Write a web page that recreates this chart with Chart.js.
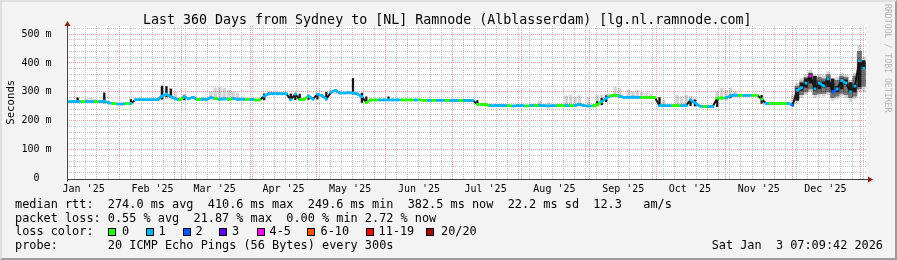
<!DOCTYPE html>
<html><head><meta charset="utf-8">
<script src="https://cdn.jsdelivr.net/npm/chart.js@4.4.0/dist/chart.umd.min.js"></script>
<style>
html,body{margin:0;padding:0;background:#f3f3f3;}
#wrap{position:relative;width:897px;height:260px;background:#f3f3f3;overflow:hidden;}
#c{position:absolute;left:0;top:0;}
#frame{position:absolute;left:0;top:0;width:897px;height:260px;box-sizing:border-box;border-top:2px solid #dedede;border-left:2px solid #dedede;border-right:2px solid #9c9c9c;border-bottom:2px solid #9c9c9c;pointer-events:none;}
.t{position:absolute;font-family:"DejaVu Sans Mono",monospace;color:#000;white-space:pre;}
.box{position:absolute;width:8px;height:8px;box-sizing:border-box;border:1px solid #000;}
</style></head>
<body><div id="wrap"><canvas id="c" width="897" height="260"></canvas><div id="frame"></div></div>
<script>
// ---------------- data ----------------
const monthLabels = ["Jan '25","Feb '25","Mar '25","Apr '25","May '25","Jun '25","Jul '25","Aug '25","Sep '25","Oct '25","Nov '25","Dec '25"];
const yTickValues = [0,100,200,300,400,500];
const sampleStepDays = 2; // one median sample every 2 days, from the graph start

// median rtt (ms), one value per 2-day step
const median = [
 266,266,266,266,266,266,266,266,268,262,
 260,258,258,259,260,273,273,273,273,273,
 273,285,292,283,276,272,283,276,281,273,
 275,274,280,277,274,276,274,277,274,275,
 274,274,272,272,285,293,293,293,293,293,
 273,292,273,274,286,275,292,287,275,298,
 305,296,296,297,296,293,283,263,272,272,
 272,272,272,272,272,272,272,272,272,272,
 271,271,271,271,271,271,270,270,270,270,
 270,270,257,257,255,252,252,253,252,252,
 251,252,252,251,252,253,252,252,251,252,
 252,253,252,252,253,257,252,251,251,256,
 266,278,286,289,285,281,281,282,281,281,
 281,281,280,252,252,252,252,252,252,252,
 272,262,251,249,249,249,278,279,279,286,
 289,288,288,288,288,288,275,260,260,260,
 260,260,260,254,305,315,330,355,310,330,
 320,345,300,310,340,330,300,320,408,382
];
// lost pings (of 20) per step
const loss = [
 1,1,1,0,1,1,0,1,1,1,
 0,1,1,0,1,1,1,1,1,1,
 1,1,1,1,1,0,1,1,1,0,
 1,1,1,0,1,1,0,1,1,1,
 0,1,0,0,1,1,1,1,1,1,
 1,1,0,0,1,1,1,1,1,1,
 1,1,1,1,1,1,1,0,0,0,
 1,1,1,1,1,0,0,0,1,0,
 0,1,0,1,1,0,1,1,0,1,
 1,1,0,0,0,1,1,1,1,0,
 1,1,1,0,1,0,1,1,1,1,
 0,0,1,0,1,1,1,1,0,0,
 1,1,0,0,1,1,1,1,1,0,
 0,0,0,1,1,1,0,0,1,1,
 1,1,1,0,1,1,0,0,1,1,
 1,0,1,1,0,0,0,1,0,0,
 0,0,1,2,1,1,1,4,1,1,
 1,1,2,1,1,1,1,1,1,1
];
// smoke: [step index, low ms, high ms]
const smokeOuter = [
 [2,264,279],[4,264,276],[5,264,278],[6,264,275],[8,262,285],
 [21,272,315],[22,275,318],[23,274,312],[24,272,300],[26,272,292],
 [32,272,300],[33,272,314],[34,272,316],[35,272,312],[36,272,305],[37,272,300],[38,272,296],
 [45,290,298],[46,290,299],[47,290,298],
 [59,292,305],[60,295,310],[61,292,303],
 [106,250,268],[108,250,262],[112,250,285],[113,250,289],[114,250,282],[115,252,287],[117,250,280],
 [119,252,289],[120,258,289],[121,270,292],
 [123,283,316],[124,280,312],[126,278,306],[127,278,300],[128,278,306],[129,278,298],
 [130,278,295],[131,278,292],[133,250,280],[134,250,270],[137,250,289],[138,250,285],[139,250,289],
 [140,260,285],[141,250,275],
 [146,270,300],[147,272,313],[148,272,305],[149,280,313],[150,284,302],
 [163,250,290],[164,262,330],[165,280,345],[166,290,360],[167,300,375],[168,280,350],[169,285,360],
 [170,285,355],[171,290,370],[172,270,340],[173,275,350],[174,285,365],[175,280,360],[176,265,340],
 [177,275,365],[178,300,460],[179,300,420]
];
const smokeMid = [
 [164,275,320],[165,290,335],[166,300,350],[167,310,365],[168,290,340],[169,295,350],[170,295,345],
 [171,300,360],[172,280,330],[173,285,340],[174,295,355],[175,290,350],[176,280,330],[177,285,355],
 [178,310,440],[179,320,400]
];
// thin dark spikes of the calm months
const smokeCore = [
 [2,265,279],[8,262,297],[14,260,273],[21,275,320],[22,283,318],[23,280,310],[26,272,285],
 [44,272,293],[50,273,293],[51,273,292],[52,273,292],[54,274,286],[56,275,292],[58,275,298],
 [64,293,347],[66,263,296],[67,263,283],[72,272,283],
 [92,257,270],[94,252,257],[115,252,257],[119,251,266],[120,256,278],[121,266,286],
 [133,252,280],[140,252,272],[141,251,272],[146,249,278],[149,279,289],[156,260,288],[163,254,262]
];
// dense dark smoke of December
const smokeDense = [
 [164,270,312],[165,305,330],[166,315,345],[167,330,362],[168,305,355],[169,310,335],[170,315,335],[171,318,348],
 [172,300,345],[173,300,318],[174,310,345],[175,325,342],[176,298,332],[177,300,325],[178,318,412],[179,380,408]
];
const lossColors = ['#26ff00','#00b8ff','#0059ff','#5e00ff','#ff00ff','#ff5500','#ff0000','#a10000'];
const lossLabels = ['0','1','2','3','4-5','6-10','11-19','20/20'];
const legendLines = [
 "median rtt:  274.0 ms avg  410.6 ms max  249.6 ms min  382.5 ms now  22.2 ms sd  12.3   am/s",
 "packet loss: 0.55 % avg  21.87 % max  0.00 % min 2.72 % now",
 "loss color:",
 "probe:       20 ICMP Echo Pings (56 Bytes) every 300s"
];
const titleText = "Last 360 Days from Sydney to [NL] Ramnode (Alblasserdam) [lg.nl.ramnode.com]";
const stampText = "Sat Jan  3 07:09:42 2026";

// ---------------- time helpers ----------------
const START = Date.UTC(2025,0,8,7,9,42);
const DAYMS = 86400000;
const SPAN = 360;
const dayOf = (y,m,d) => (Date.UTC(y,m,d) - START) / DAYMS;
const labelDays = monthLabels.map((_,m) => dayOf(2025,m,16));
const majorDays = [];
for (let m = 1; m <= 12; m++) majorDays.push(dayOf(2025,m,1));
const minorDays = [];
for (let d = dayOf(2025,0,2); d <= SPAN; d += 5) if (d >= 0) minorDays.push(d);
const yMinorValues = [];
for (let v = 20; v <= 520; v += 20) if (v % 100) yMinorValues.push(v);
const stepX = i => sampleStepDays * i + sampleStepDays / 2;
const JUMP_MS = 12; // steeper steps are left to the dark smoke, as in SmokePing

function lossColor(n){
  if (n <= 0) return lossColors[0];
  if (n === 1) return lossColors[1];
  if (n === 2) return lossColors[2];
  if (n === 3) return lossColors[3];
  if (n <= 5) return lossColors[4];
  if (n <= 10) return lossColors[5];
  if (n <= 19) return lossColors[6];
  return lossColors[7];
}

// ---------------- text (DOM) ----------------
const wrap = document.getElementById('wrap');
function place(text, x, baseline, fs, extra){
  const el = document.createElement('div');
  el.className = 't';
  el.textContent = text;
  el.style.fontSize = fs + 'px';
  el.style.lineHeight = (fs * 1.164) + 'px';
  el.style.top = (baseline - 0.928 * fs) + 'px';
  if (x !== null) el.style.left = x + 'px';
  if (extra) Object.assign(el.style, extra);
  wrap.appendChild(el);
  return el;
}
place(titleText, 143, 24, 13.3);
const legFs = 11.86, legBase = [209, 222.8, 236.5, 250.2];
legendLines.forEach((s,i) => place(s, 15, legBase[i], legFs));
place(stampText, null, 250.2, legFs, {right: '14px'});
const boxX = [108, 146, 183, 219, 257, 307, 366, 426];
const lblX = [122, 158.5, 195.5, 232, 269.5, 320.5, 378.5, 441];
lossLabels.forEach((l,i) => {
  const b = document.createElement('div');
  b.className = 'box';
  b.style.left = boxX[i] + 'px'; b.style.top = '228px';
  b.style.background = lossColors[i];
  wrap.appendChild(b);
  place(l, lblX[i], 236.5, legFs);
});
const wm = document.createElement('div');
wm.className = 't';
wm.textContent = 'RRDTOOL / TOBI OETIKER';
Object.assign(wm.style, {fontSize:'8.2px', lineHeight:'9.5px', writingMode:'vertical-rl', left:'882.8px', top:'4px', color:'#b4b4b4'});
wrap.appendChild(wm);

// ---------------- chart ----------------
const mono = "'DejaVu Sans Mono', monospace";
const plotBg = {
  id: 'plotBg',
  beforeDraw(chart){
    const {ctx, chartArea:a} = chart;
    ctx.save(); ctx.fillStyle = '#ffffff';
    ctx.fillRect(a.left, a.top, a.right - a.left, a.bottom - a.top);
    ctx.restore();
  }
};
const axesArrows = {
  id: 'axesArrows',
  afterDraw(chart){
    const {ctx, chartArea:a} = chart;
    const L = Math.round(a.left) + 0.5, B = Math.round(a.bottom) + 0.5;
    ctx.save();
    ctx.strokeStyle = '#404040'; ctx.lineWidth = 1;
    ctx.beginPath();
    ctx.moveTo(L, B); ctx.lineTo(a.right + 2, B);
    ctx.moveTo(L, B + 2); ctx.lineTo(L, a.top - 1);
    ctx.stroke();
    ctx.fillStyle = '#8b1c1c';
    ctx.beginPath();
    ctx.moveTo(L - 3, a.top); ctx.lineTo(L + 3, a.top); ctx.lineTo(L, a.top - 5); ctx.closePath(); ctx.fill();
    ctx.beginPath();
    ctx.moveTo(a.right + 2, B - 3); ctx.lineTo(a.right + 2, B + 3); ctx.lineTo(a.right + 7, B); ctx.closePath(); ctx.fill();
    ctx.restore();
  }
};
const hiddenAxis = (extra) => Object.assign({
  type: 'linear', display: true, offset: false,
  ticks: {display: false},
  afterFit: s => { if (s.isHorizontal()) s.height = 0; else s.width = 0; }
}, extra);

const barSet = (list, color, thick, order) => ({
  type: 'bar',
  data: list.map(([i,lo,hi]) => ({x: stepX(i), y: [lo, hi]})),
  backgroundColor: color, borderWidth: 0, barThickness: thick,
  grouped: false, order, xAxisID: 'x', yAxisID: 'y'
});

const GRID_MINOR = '#c4c4c4';
const GRID_MAJOR = '#f4a0a0';
const medianPoints = median.map((v,i) => ({x: stepX(i), y: v}));

new Chart(document.getElementById('c'), {
  type: 'line',
  data: {
    datasets: [
      {
        type: 'line',
        data: medianPoints,
        borderColor: lossColors[1], borderWidth: 2.5, tension: 0, fill: false,
        pointRadius: 1.9, pointStyle: 'rect', pointBorderWidth: 0,
        pointBackgroundColor: c => lossColor(loss[c.dataIndex]),
        segment: {borderColor: c => Math.abs(c.p1.parsed.y - c.p0.parsed.y) > JUMP_MS ? 'rgba(0,0,0,0)' : lossColor(loss[c.p0DataIndex])},
        order: 0, xAxisID: 'x', yAxisID: 'y'
      },
      {
        type: 'line',
        data: medianPoints,
        borderColor: '#141414', borderWidth: 2, tension: 0, fill: false, pointRadius: 0,
        order: 1, xAxisID: 'x', yAxisID: 'y'
      },
      barSet(smokeCore, '#161616', 1.6, 2),
      barSet(smokeDense, '#1a1a1a', 3, 2),
      barSet(smokeMid, 'rgba(0,0,0,0.45)', 4.5, 3),
      barSet(smokeOuter, 'rgba(0,0,0,0.17)', 3, 4)
    ]
  },
  options: {
    responsive: false, animation: false, devicePixelRatio: 1,
    layout: {padding: {left: 0.5, top: 26, right: 31, bottom: 61.5}},
    plugins: {legend: {display: false}, tooltip: {enabled: false}, title: {display: false}},
    scales: {
      xMinor: hiddenAxis({position: 'bottom', min: 0, max: SPAN,
        afterBuildTicks: s => { s.ticks = minorDays.map(v => ({value: v})); },
        grid: {color: GRID_MINOR, lineWidth: 1, drawTicks: false, offset: false, drawOnChartArea: true},
        border: {display: false, dash: [1,1]}}),
      xMajor: hiddenAxis({position: 'bottom', min: 0, max: SPAN,
        afterBuildTicks: s => { s.ticks = majorDays.map(v => ({value: v})); },
        grid: {color: GRID_MAJOR, lineWidth: 1, drawTicks: false, offset: false, drawOnChartArea: true},
        border: {display: false, dash: [1,1]}}),
      yMinor: hiddenAxis({position: 'left', min: 0, max: 528,
        afterBuildTicks: s => { s.ticks = yMinorValues.map(v => ({value: v})); },
        grid: {color: GRID_MINOR, lineWidth: 1, drawTicks: false, drawOnChartArea: true},
        border: {display: false, dash: [1,1]}}),
      yMajor: hiddenAxis({position: 'left', min: 0, max: 528,
        afterBuildTicks: s => { s.ticks = yTickValues.filter(v => v > 0).map(v => ({value: v})); },
        grid: {color: GRID_MAJOR, lineWidth: 1, drawTicks: false, drawOnChartArea: true},
        border: {display: false, dash: [1,1]}}),
      x: {
        type: 'linear', position: 'bottom', min: 0, max: SPAN, offset: false,
        afterBuildTicks: s => { s.ticks = labelDays.map(v => ({value: v})); },
        afterFit: s => { s.height = 20; },
        grid: {display: false, offset: false}, border: {display: false},
        ticks: {callback: (v,i) => monthLabels[i], autoSkip: false, maxRotation: 0, minRotation: 0,
                font: {family: mono, size: 10}, color: '#000', padding: -3}
      },
      y: {
        type: 'linear', position: 'left', min: 0, max: 528,
        afterBuildTicks: s => { s.ticks = yTickValues.map(v => ({value: v})); },
        afterFit: s => { s.width = 66; },
        grid: {display: false}, border: {display: false},
        ticks: {callback: v => v === 0 ? '0  ' : v + ' m', font: {family: mono, size: 10}, color: '#000', padding: 7},
        title: {display: true, text: 'Seconds', font: {family: mono, size: 10.7}, color: '#000', padding: {top: 4, bottom: 4}}
      }
    }
  },
  plugins: [plotBg, axesArrows]
});
</script></body></html>
